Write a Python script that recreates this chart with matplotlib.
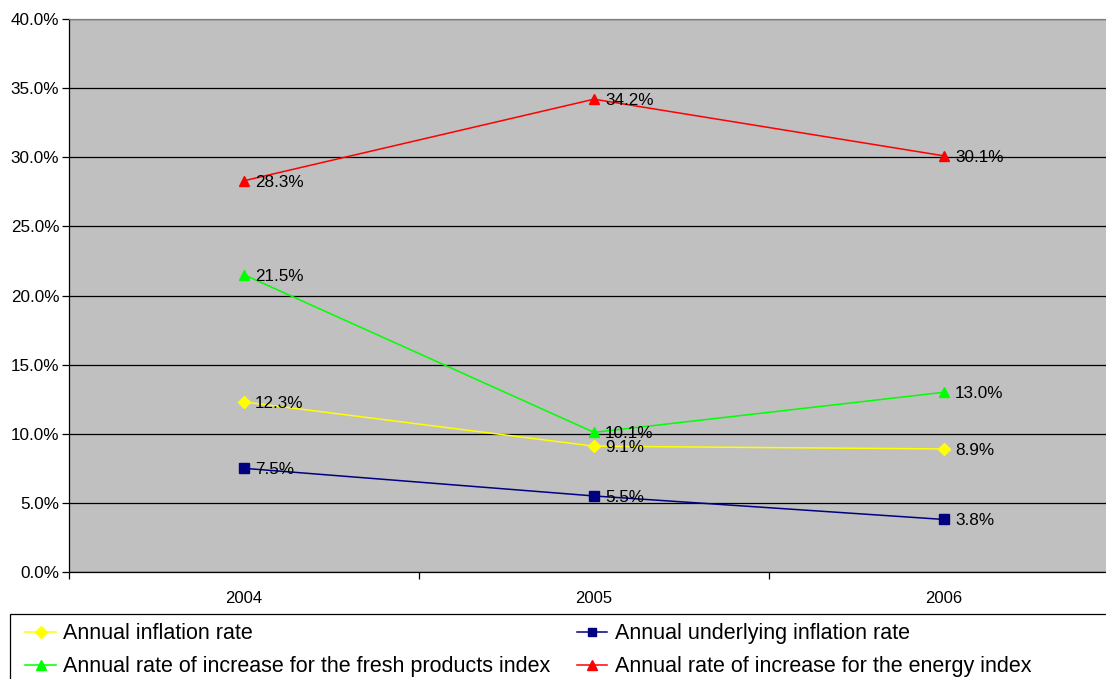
import matplotlib
matplotlib.use("Agg")
import matplotlib.pyplot as plt
from matplotlib.patches import Rectangle
from matplotlib.ticker import FuncFormatter, MultipleLocator

plt.rcParams["font.family"] = ["Liberation Sans", "DejaVu Sans"]

years = ["2004", "2005", "2006"]
inflation = [12.3, 9.1, 8.9]
underlying = [7.5, 5.5, 3.8]
fresh = [21.5, 10.1, 13.0]
energy = [28.3, 34.2, 30.1]

series = [
    ("Annual inflation rate", inflation, "#FFFF00", "D", 6),
    ("Annual underlying inflation rate", underlying, "#000080", "s", 6.5),
    ("Annual rate of increase for the fresh products index", fresh, "#00FF00", "^", 7.5),
    ("Annual rate of increase for the energy index", energy, "#FF0000", "^", 7.5),
]

fig = plt.figure(figsize=(11.06, 6.79), dpi=100)
ax = fig.add_axes([69 / 1106, 1 - 572 / 679, 1050 / 1106, 553 / 679])
ax.set_facecolor("#C0C0C0")

x = list(range(len(years)))
handles = []
for name, vals, color, marker, ms in series:
    (h,) = ax.plot(x, vals, color=color, lw=1.1, marker=marker, ms=ms,
                   markeredgecolor=color, label=name, zorder=3)
    handles.append(h)
    for xi, v in zip(x, vals):
        ax.annotate(f"{v:.1f}%", (xi, v), xytext=(8, -1), textcoords="offset points",
                    va="center", ha="left", fontsize=12.3, color="black", zorder=4)

ax.set_xlim(-0.5, 2.5)
ax.set_ylim(0, 40)
ax.yaxis.set_major_locator(MultipleLocator(5))
ax.yaxis.set_major_formatter(FuncFormatter(lambda v, p: f"{v:.1f}%"))
ax.grid(axis="y", color="black", lw=0.9)
ax.set_axisbelow(True)

ax.set_xticks(x)
ax.set_xticklabels(years)
ax.set_xticks([-0.5, 0.5, 1.5, 2.5], minor=True)
ax.tick_params(axis="x", which="major", length=0, pad=14, labelsize=12)
ax.tick_params(axis="x", which="minor", length=5, width=0.9, color="black")
ax.tick_params(axis="y", length=5, width=0.9, labelsize=12.3, pad=2)

ax.spines["left"].set_color("black")
ax.spines["bottom"].set_color("black")
ax.spines["top"].set_color("#808080")
ax.spines["right"].set_visible(False)
for s in ax.spines.values():
    s.set_linewidth(0.9)

# legend box along the bottom edge, entries filled row by row
fig.patches.append(Rectangle((10 / 1106, -0.05), 1.1, 1 - 614 / 679 + 0.05,
                             transform=fig.transFigure, fill=False,
                             edgecolor="black", lw=0.9))
order = [0, 2, 1, 3]
fig.legend([handles[i] for i in order], [series[i][0] for i in order], ncol=2,
           frameon=False, loc="upper left",
           bbox_to_anchor=(19 / 1106, 1 - 617 / 679),
           fontsize=15.5, handlelength=1.4, handletextpad=0.36,
           columnspacing=1.22, labelspacing=0.55, borderaxespad=0,
           borderpad=0.3, markerscale=0.95)

fig.savefig("out.png", dpi=100)
